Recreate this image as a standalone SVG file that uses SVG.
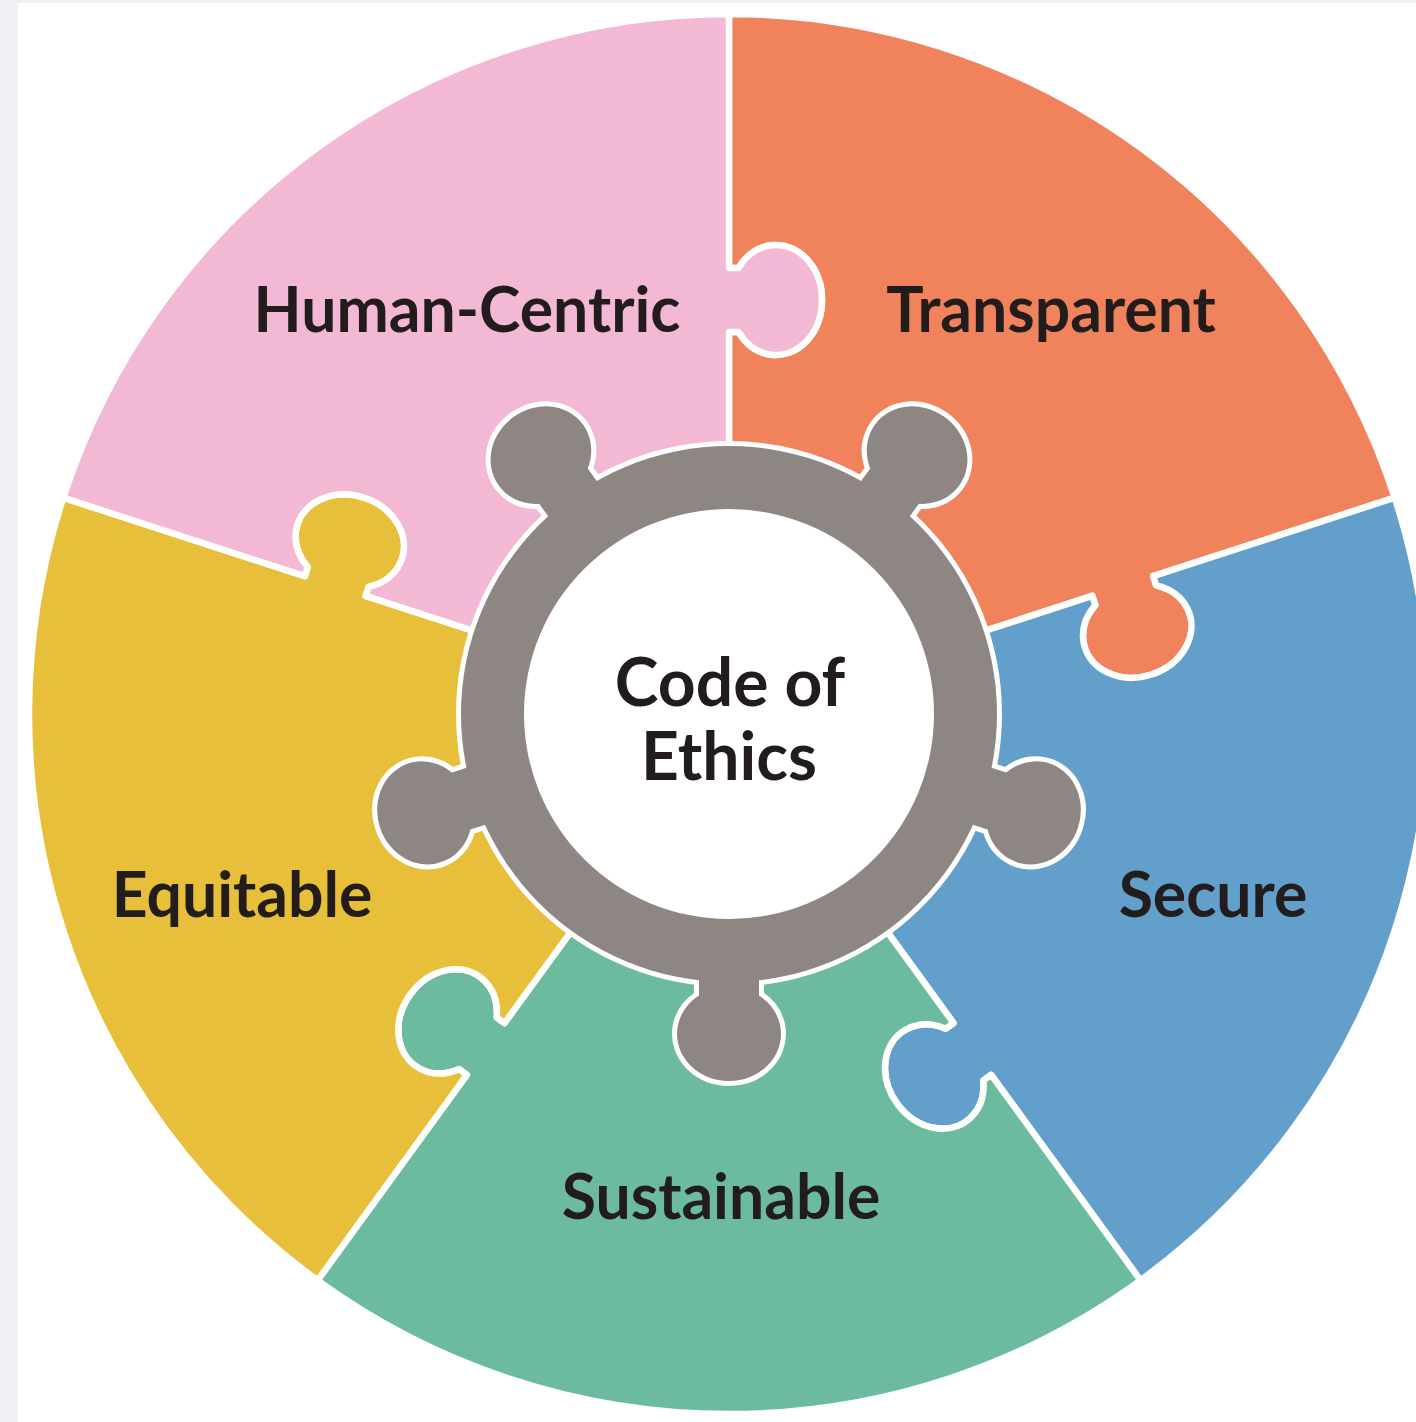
<svg xmlns="http://www.w3.org/2000/svg" xmlns:xlink="http://www.w3.org/1999/xlink" width="1416" height="1422" viewBox="0 0 1416 1422">
  <style>
    .piece { stroke: #ffffff; stroke-width: 6.5; stroke-linejoin: round; }
    .outline { fill: none; stroke: #ffffff; stroke-width: 10; stroke-linejoin: round; }
    .gray { fill: #8e8682; }
    .label { font-family: Lato, "Liberation Sans", sans-serif; font-weight: 700; font-size: 62.5px; fill: #221c1d; text-anchor: middle; }
    .center { font-size: 66px; }
  </style>
  <defs>
    <path id="piece" d="M 0,0 L 0,-382 L 9.6,-382 A 46 55 0 1 0 9.6,-446 L 0,-446 L 0,-700 A 700 700 0 0 1 665.74,-216.31 L 424.17,-137.82 L 427.14,-128.69 A 55 46 -18 1 1 366.27,-108.91 L 363.30,-118.04 Z"/>
    <path id="knob" d="M -30,250 L -30,281.6 A 52 47 0 1 0 30,281.6 L 30,250 Z"/>
  </defs>
  <rect x="0" y="0" width="1416" height="1422" fill="#f0f1f5"/>
  <rect x="18" y="3" width="1398" height="1419" fill="#ffffff"/>

  <g id="pieces" transform="translate(729,714)">
    <g id="transparent"><use xlink:href="#piece" class="piece" fill="#f0825c"/></g>
    <g id="secure"><use xlink:href="#piece" class="piece" fill="#629fcb" transform="rotate(72)"/></g>
    <g id="sustainable"><use xlink:href="#piece" class="piece" fill="#6dbb9f" transform="rotate(144)"/></g>
    <g id="equitable"><use xlink:href="#piece" class="piece" fill="#e7bf3a" transform="rotate(216)"/></g>
    <g id="human-centric"><use xlink:href="#piece" class="piece" fill="#f2b8d4" transform="rotate(288)"/></g>
  </g>

  <g id="code-of-ethics" transform="translate(729,714)">
    <circle r="268" class="outline"/>
    <use xlink:href="#knob" class="outline"/>
    <use xlink:href="#knob" class="outline" transform="rotate(72)"/>
    <use xlink:href="#knob" class="outline" transform="rotate(144)"/>
    <use xlink:href="#knob" class="outline" transform="rotate(216)"/>
    <use xlink:href="#knob" class="outline" transform="rotate(288)"/>
    <circle r="268" class="gray"/>
    <use xlink:href="#knob" class="gray"/>
    <use xlink:href="#knob" class="gray" transform="rotate(72)"/>
    <use xlink:href="#knob" class="gray" transform="rotate(144)"/>
    <use xlink:href="#knob" class="gray" transform="rotate(216)"/>
    <use xlink:href="#knob" class="gray" transform="rotate(288)"/>
    <circle r="205" fill="#ffffff"/>
  </g>

  <g id="labels">
    <text class="label" x="467" y="332">Human-Centric</text>
    <text class="label" x="1051" y="332">Transparent</text>
    <text class="label center" x="730" y="706">Code of</text>
    <text class="label center" x="729" y="780">Ethics</text>
    <text class="label" x="242" y="917">Equitable</text>
    <text class="label" x="1213" y="917">Secure</text>
    <text class="label" x="721" y="1219">Sustainable</text>
  </g>
</svg>
